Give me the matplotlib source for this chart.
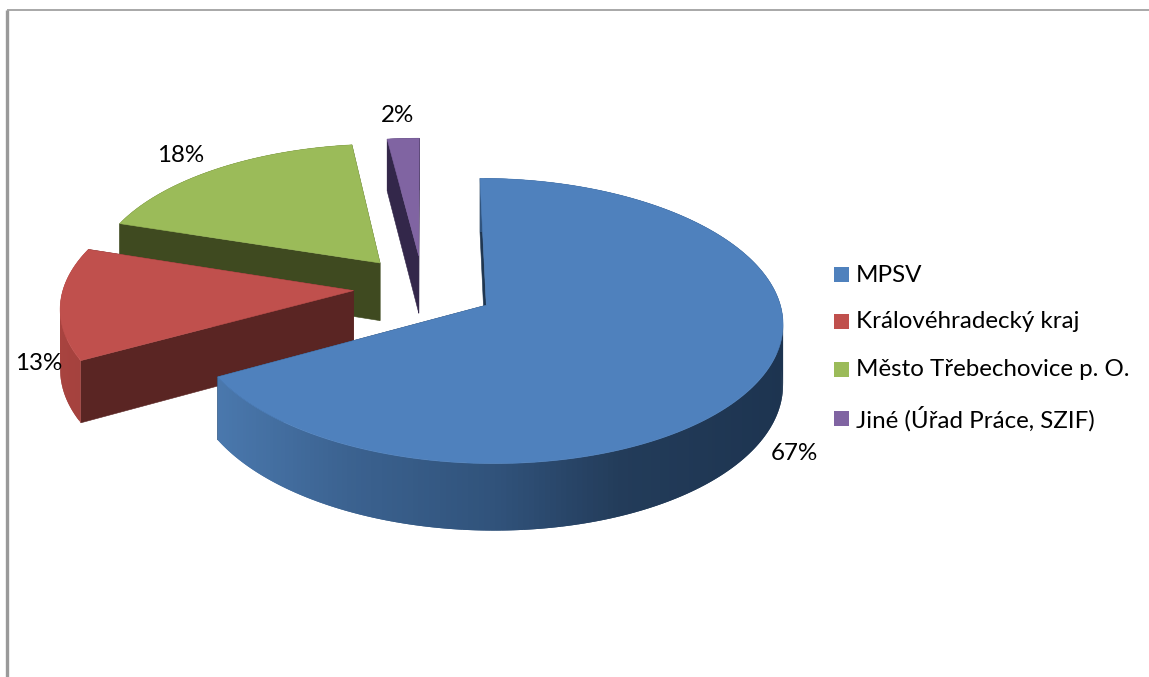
"""Exploded 3D pie of funding sources, drawn with a small perspective projection."""

import numpy as np

import matplotlib

matplotlib.use("Agg")
import matplotlib.pyplot as plt  # noqa: E402
from matplotlib.patches import Rectangle  # noqa: E402

categories = ["MPSV", "Královéhradecký kraj", "Město Třebechovice p. O.", "Jiné (Úřad Práce, SZIF)"]
values = [67, 13, 18, 2]

top_colors = ["#4f81bd", "#c0504d", "#9bbb59", "#8064a2"]
face_colors = ["#1f3650", "#5a2523", "#3f4a20", "#33274a"]
# rim shading by screen x, dark side towards the right
rim_x = [60, 217, 350, 500, 620, 783]
rim_colors = {
    0: ["#4a78ad", "#4a78ad", "#3b6290", "#30527a", "#233c5a", "#1d3450"],
    1: ["#a8433f", "#8f3835", "#5a2523", "#5a2523", "#5a2523", "#5a2523"],
    2: ["#3f4a20"] * 6,
    3: ["#33274a"] * 6,
}
label_pos = [(794, 454), (39, 364), (181, 156), (397, 115)]
legend_y = [274, 321, 369, 418]

# projection settings (pixels)
CX, CY = 423.0, 287.5
A, B = 290.0, 137.0
PERSP = 0.109
EXPLODE = [0.25, 0.24, 0.237, 0.237]
DEPTH = 58.8


def project(x, y, drop=0.0):
    """Model coords (radius 1 pie) to screen pixels; drop=1 is the underside."""
    scale = 1.0 / (1.0 + PERSP * y)
    return CX + A * x * scale, CY - B * y * scale + DEPTH * drop * scale


def to_rgb(hex_color):
    return np.array(matplotlib.colors.to_rgb(hex_color))


def rim_color(i, sx):
    rgb = np.array([to_rgb(c) for c in rim_colors[i]])
    return [np.interp(sx, rim_x, rgb[:, k]) for k in range(3)]


fig = plt.figure(figsize=(11.49, 6.77), dpi=100)
ax = fig.add_axes([0, 0, 1, 1])
ax.set_xlim(0, 1149)
ax.set_ylim(677, 0)
ax.axis("off")

# frame left over from the chart area
ax.plot([7, 7], [10, 677], color="#9a9a9a", lw=2.4, solid_capstyle="butt")
ax.plot([7, 1149], [10, 10], color="#9a9a9a", lw=1.2, solid_capstyle="butt")

shares = np.array(values) / sum(values)
edges = np.concatenate([[0], np.cumsum(shares)]) * 2 * np.pi

# back to front so nearer slices cover the others
for i in [3, 2, 1, 0]:
    t0, t1 = edges[i], edges[i + 1]
    mid = (t0 + t1) / 2
    ox, oy = EXPLODE[i] * np.sin(mid), EXPLODE[i] * np.cos(mid)
    ts = np.linspace(t0, t1, max(12, int((t1 - t0) * 60)))
    rx, ry = ox + np.sin(ts), oy + np.cos(ts)

    # cut faces
    for end in (0, -1):
        ax_top = project(np.array([ox, rx[end]]), np.array([oy, ry[end]]))
        ax_low = project(np.array([ox, rx[end]]), np.array([oy, ry[end]]), 1.0)
        ax.fill(
            [ax_top[0][0], ax_top[0][1], ax_low[0][1], ax_low[0][0]],
            [ax_top[1][0], ax_top[1][1], ax_low[1][1], ax_low[1][0]],
            color=face_colors[i], lw=0.4,
        )

    # outer rim, strips overlap by one step so no seams show
    sx_top, sy_top = project(rx, ry)
    sx_low, sy_low = project(rx, ry, 1.0)
    for k in range(len(ts) - 1):
        j = min(k + 2, len(ts) - 1)
        ax.fill(
            [sx_top[k], sx_top[j], sx_low[j], sx_low[k]],
            [sy_top[k], sy_top[j], sy_low[j], sy_low[k]],
            color=rim_color(i, (sx_top[k] + sx_top[k + 1]) / 2), lw=0,
        )

    # top surface
    ax_x, ax_y = project(ox, oy)
    ax.fill(np.r_[ax_x, sx_top], np.r_[ax_y, sy_top], color=top_colors[i], lw=0.4)

font = {"family": ["Lato", "DejaVu Sans"], "color": "black"}
for value, (lx, ly) in zip(values, label_pos):
    ax.text(lx, ly, f"{value}%", fontsize=17.4, ha="center", va="center", **font)

for name, color, ly in zip(categories, top_colors, legend_y):
    ax.add_patch(Rectangle((834, ly - 7.5), 15, 15, facecolor=color, edgecolor="none"))
    ax.text(856, ly + 1, name, fontsize=17.4, ha="left", va="center", **font)

fig.savefig("out.png", dpi=100)
plt.close(fig)
